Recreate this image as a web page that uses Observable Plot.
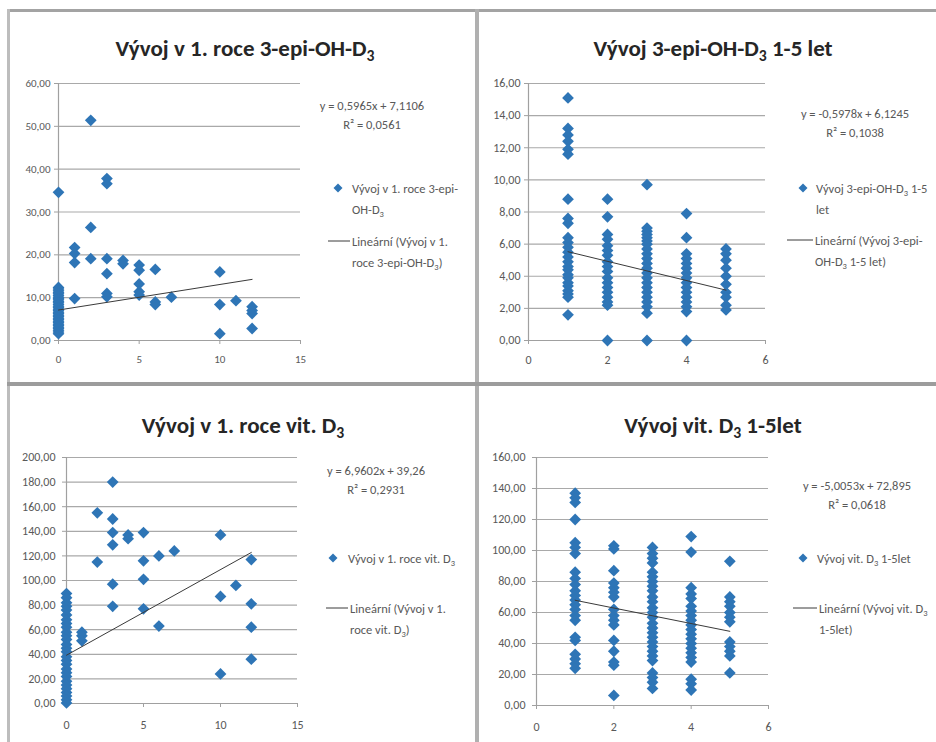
<!DOCTYPE html>
<html>
<head>
<meta charset="utf-8">
<script src="https://cdn.jsdelivr.net/npm/d3@7"></script>
<script src="https://cdn.jsdelivr.net/npm/@observablehq/plot@0.6"></script>
<style>
  body { margin: 0; background: #fff; }
  #page { position: relative; width: 936px; height: 742px; overflow: hidden; background: #fff;
          font-family: Carlito, Lato, "Noto Sans", sans-serif; }
  .panel { position: absolute; }
  .title { position: absolute; font-weight: 700; font-size: 23px; line-height: 28px; color: #262626;
           white-space: nowrap; transform: translateX(-50%); }
  .eq { position: absolute; font-size: 12.5px; color: #595959; text-align: center; line-height: 19px;
        transform: translateX(-50%); white-space: nowrap; }
  .leg { position: absolute; font-size: 12.5px; color: #595959; line-height: 21px; white-space: nowrap; }
  .bar { position: absolute; }
  sub { font-size: 68%; vertical-align: -0.3em; line-height: 0; }
  .sym { position: absolute; }
</style>
</head>
<body>
<div id="page"></div>
<script>
// ---------- data ----------
const epi1Months = [0, 1, 2, 3, 4, 5, 6, 7, 10, 11, 12];
const epi1Values = [
  [34.6, 12.4, 12.0, 11.6, 11.2, 10.9, 10.5, 10.1, 9.8, 9.5, 9.1, 8.8, 8.4, 8.0, 7.7, 7.3, 7.0, 6.6, 6.3, 5.9, 5.6, 5.2, 4.9, 4.5, 4.2, 3.8, 3.5, 3.1, 2.8, 2.4, 2.0, 1.6],
  [21.7, 20.3, 18.2, 9.8],
  [51.4, 26.4, 19.1],
  [37.8, 36.6, 19.1, 15.6, 11.0, 10.2],
  [18.7, 17.9],
  [17.6, 16.4, 13.2, 11.4, 10.6],
  [16.6, 9.0, 8.4],
  [10.1],
  [16.0, 8.4, 1.6],
  [9.3],
  [7.9, 7.0, 6.3, 2.8]
];

const epi15Years = [1, 2, 3, 4, 5];
const epi15Values = [
  [15.1, 13.2, 12.8, 12.4, 11.9, 11.6, 8.8, 7.6, 7.3, 6.4, 6.1, 5.8, 5.5, 5.2, 4.9, 4.6, 4.4, 4.1, 3.9, 3.6, 3.4, 3.1, 2.9, 2.7, 1.6],
  [8.8, 7.7, 6.6, 6.3, 5.9, 5.6, 5.3, 4.9, 4.6, 4.3, 3.9, 3.6, 3.3, 3.0, 2.7, 2.4, 2.2, 0.0],
  [9.7, 7.0, 6.8, 6.6, 6.4, 6.2, 6.0, 5.7, 5.4, 5.1, 4.8, 4.5, 4.2, 3.9, 3.6, 3.3, 3.0, 2.7, 2.4, 2.1, 1.7, 0.0],
  [7.9, 6.4, 5.4, 5.1, 4.8, 4.5, 4.2, 3.9, 3.6, 3.3, 3.0, 2.7, 2.4, 2.1, 1.8, 0.0],
  [5.7, 5.4, 5.0, 4.5, 4.0, 3.5, 3.0, 2.7, 2.2, 1.9]
];

const vit1Months = [0, 1, 2, 3, 4, 5, 6, 7, 10, 11, 12];
const vit1Values = [
  [89.4, 86, 82, 79, 76, 72, 68, 65, 62, 58, 55, 52, 48, 45, 42, 38, 35, 32, 28, 25, 22, 18, 15, 12, 9, 6, 3, 0.5],
  [58, 55, 51],
  [155, 115],
  [180, 150, 139, 129, 97, 79],
  [137, 134],
  [139, 116, 101, 77],
  [120, 63],
  [124],
  [137, 87, 24],
  [96],
  [117, 81, 62, 36]
];

const vit15Years = [1, 2, 3, 4, 5];
const vit15Values = [
  [137, 134, 131, 120, 105, 102, 98, 86, 82, 78, 74, 71, 68, 65, 62, 58, 55, 44, 42, 33, 30, 27, 24],
  [103, 101, 87, 79, 76, 73, 70, 62, 58, 55, 52, 42, 35, 28, 26, 6.5],
  [102, 98, 95, 92, 86, 83, 80, 77, 74, 70, 67, 63, 60, 57, 53, 50, 47, 44, 41, 38, 35, 32, 29, 21, 18, 15, 11],
  [109, 99, 76, 72, 69, 64, 61, 58, 55, 52, 49, 46, 43, 40, 37, 34, 31, 28, 17, 14, 10],
  [93, 70, 67, 64, 60, 57, 54, 41, 38, 35, 32, 21]
];

// trendline coefficients as printed on the chart
const slopes = [0.5965, -0.5978, 6.9602, -5.0053];
const intercepts = [7.1106, 6.1245, 39.26, 72.895];
const equations = ["y = 0,5965x + 7,1106", "y = -0,5978x + 6,1245", "y = 6,9602x + 39,26", "y = -5,0053x + 72,895"];
const rSquared = ["R² = 0,0561", "R² = 0,1038", "R² = 0,2931", "R² = 0,0618"];

// tick labels
const xTicks15 = [0, 5, 10, 15];
const xTicks6 = [0, 2, 4, 6];
const yTicksEpi1 = [0, 10, 20, 30, 40, 50, 60];
const yTicksEpi15 = [0, 2, 4, 6, 8, 10, 12, 14, 16];
const yTicksVit1 = [0, 20, 40, 60, 80, 100, 120, 140, 160, 180, 200];
const yTicksVit15 = [0, 20, 40, 60, 80, 100, 120, 140, 160];

const titles = [
  "Vývoj v 1. roce 3-epi-OH-D<sub>3</sub>",
  "Vývoj 3-epi-OH-D<sub>3</sub> 1-5 let",
  "Vývoj v 1. roce vit. D<sub>3</sub>",
  "Vývoj vit. D<sub>3</sub> 1-5let"
];
const seriesNames = [
  "Vývoj v 1. roce 3-epi-<br>OH-D<sub>3</sub>",
  "Vývoj 3-epi-OH-D<sub>3</sub> 1-5<br>let",
  "Vývoj v 1. roce vit. D<sub>3</sub>",
  "Vývoj vit. D<sub>3</sub> 1-5let"
];
const trendNames = [
  "Lineární (Vývoj v 1.<br>roce 3-epi-OH-D<sub>3</sub>)",
  "Lineární (Vývoj 3-epi-<br>OH-D<sub>3</sub> 1-5 let)",
  "Lineární (Vývoj v 1.<br>roce vit. D<sub>3</sub>)",
  "Lineární (Vývoj vit. D<sub>3</sub><br>1-5let)"
];

// ---------- drawing ----------
const BLUE = "#2e75b6";
const FONT = 'Carlito, Lato, "Noto Sans", sans-serif';
const page = document.getElementById("page");
const fmt = d => d.toFixed(2).replace(".", ",");

function rowsFrom(xs, vals) {
  return xs.flatMap((x, i) => vals[i].map(v => ({x, y: v})));
}

function scatter(cfg) {
  const rows = rowsFrom(cfg.xs, cfg.vals);
  const [x0, x1] = d3.extent(rows, d => d.x);
  const trend = [x0, x1].map(x => ({x, y: cfg.slope * x + cfg.intercept}));
  const yDom = [cfg.yTicks[0], cfg.yTicks[cfg.yTicks.length - 1]];
  const xDom = [cfg.xTicks[0], cfg.xTicks[cfg.xTicks.length - 1]];
  const chart = Plot.plot({
    width: cfg.w, height: cfg.h,
    marginLeft: cfg.ml, marginRight: cfg.mr, marginTop: cfg.mt, marginBottom: cfg.mb,
    x: {domain: xDom, label: null},
    y: {domain: yDom, label: null},
    style: {fontFamily: FONT, fontSize: cfg.fs + "px", color: "#595959", background: "none", overflow: "visible"},
    marks: [
      Plot.gridY(cfg.yTicks, {stroke: "#a9a9a9", strokeOpacity: 1, strokeWidth: 1.2}),
      Plot.ruleX([xDom[0]], {stroke: "#a0a0a0", strokeWidth: 1.2}),
      Plot.ruleY([yDom[0]], {stroke: "#a0a0a0", strokeWidth: 1.2}),
      Plot.axisY(cfg.yTicks, {tickSize: 4, tickPadding: cfg.yPad, tickFormat: fmt, stroke: "#a0a0a0", fill: "#595959", label: null}),
      Plot.axisX(cfg.xTicks, {tickSize: 4, tickPadding: cfg.xPad, tickFormat: d => String(d), stroke: "#a0a0a0", fill: "#595959", label: null}),
      Plot.dot(rows, {x: "x", y: "y", symbol: "diamond2", r: 5.3, fill: BLUE, stroke: "none"}),
      Plot.line(trend, {x: "x", y: "y", stroke: "#3a3a3a", strokeWidth: 1})
    ]
  });
  const holder = document.createElement("div");
  holder.className = "panel";
  holder.style.left = cfg.left + "px";
  holder.style.top = cfg.top + "px";
  holder.appendChild(chart);
  page.appendChild(holder);
}

function addDiv(cls, html, left, top) {
  const d = document.createElement("div");
  d.className = cls;
  d.innerHTML = html;
  d.style.left = left + "px";
  d.style.top = top + "px";
  page.appendChild(d);
  return d;
}

function legendSymbols(i, mx, my, lx0, lx1, ly) {
  const ns = "http://www.w3.org/2000/svg";
  const s = document.createElementNS(ns, "svg");
  s.setAttribute("class", "sym");
  s.setAttribute("width", 12); s.setAttribute("height", 12);
  s.style.left = (mx - 6) + "px"; s.style.top = (my - 6) + "px";
  s.innerHTML = `<path d="M6,1.5L10.5,6L6,10.5L1.5,6Z" fill="${BLUE}"/>`;
  page.appendChild(s);
  const l = document.createElementNS(ns, "svg");
  l.setAttribute("class", "sym");
  l.setAttribute("width", lx1 - lx0); l.setAttribute("height", 4);
  l.style.left = lx0 + "px"; l.style.top = (ly - 2) + "px";
  l.innerHTML = `<line x1="0" x2="${lx1 - lx0}" y1="2" y2="2" stroke="#3a3a3a" stroke-width="1"/>`;
  page.appendChild(l);
}

const cfgs = [
  {left: 0, top: 0, w: 470, h: 375, ml: 58, mr: 170, mt: 83, mb: 35, yPad: 4, xPad: 11, fs: 11,
   xs: epi1Months, vals: epi1Values, xTicks: xTicks15, yTicks: yTicksEpi1},
  {left: 470, top: 0, w: 466, h: 375, ml: 58, mr: 171, mt: 83, mb: 35, yPad: 4, xPad: 11, fs: 12,
   xs: epi15Years, vals: epi15Values, xTicks: xTicks6, yTicks: yTicksEpi15},
  {left: 0, top: 375, w: 470, h: 367, ml: 66, mr: 173, mt: 82, mb: 39, yPad: 7, xPad: 13, fs: 12,
   xs: vit1Months, vals: vit1Values, xTicks: xTicks15, yTicks: yTicksVit1},
  {left: 470, top: 375, w: 466, h: 367, ml: 66, mr: 168, mt: 82, mb: 37, yPad: 7, xPad: 13, fs: 12,
   xs: vit15Years, vals: vit15Values, xTicks: xTicks6, yTicks: yTicksVit15}
];

cfgs.forEach((c, i) => scatter({...c, slope: slopes[i], intercept: intercepts[i]}));

// titles, equations, legends (absolute page coordinates)
const titlePos = [[245, 48], [713, 48], [243, 425], [713, 425]];
const eqPos = [[372, 105], [855, 113], [376, 470], [857, 485]];
const legPos = [
  {mx: 338, my: 188, tx: 352, lx0: 328, lx1: 350, ly: 241},
  {mx: 803, my: 188, tx: 816, lx0: 787, lx1: 813, ly: 240},
  {mx: 333, my: 558, tx: 348, lx0: 326, lx1: 348, ly: 608},
  {mx: 803, my: 558, tx: 817, lx0: 793, lx1: 817, ly: 608}
];

titles.forEach((t, i) => addDiv("title", t, titlePos[i][0], titlePos[i][1] - 14));
equations.forEach((e, i) => addDiv("eq", e + "<br>" + rSquared[i], eqPos[i][0], eqPos[i][1] - 9.5));
legPos.forEach((p, i) => {
  legendSymbols(i, p.mx, p.my, p.lx0, p.lx1, p.ly);
  addDiv("leg", seriesNames[i], p.tx, p.my - 10.5);
  addDiv("leg", trendNames[i], p.lx1 + 2, p.ly - 10.5);
});

// panel borders
const bars = [
  [8, 9, 928, 3, "#a3a3a3"],
  [7, 9, 3, 733, "#bdbdbd"],
  [475, 9, 4, 733, "#b0b0b0"],
  [7, 382, 929, 4, "#9c9c9c"]
];
bars.forEach(([l, t, w, h, c]) => {
  const d = document.createElement("div");
  d.className = "bar";
  Object.assign(d.style, {left: l + "px", top: t + "px", width: w + "px", height: h + "px", background: c});
  page.appendChild(d);
});
</script>
</body>
</html>
